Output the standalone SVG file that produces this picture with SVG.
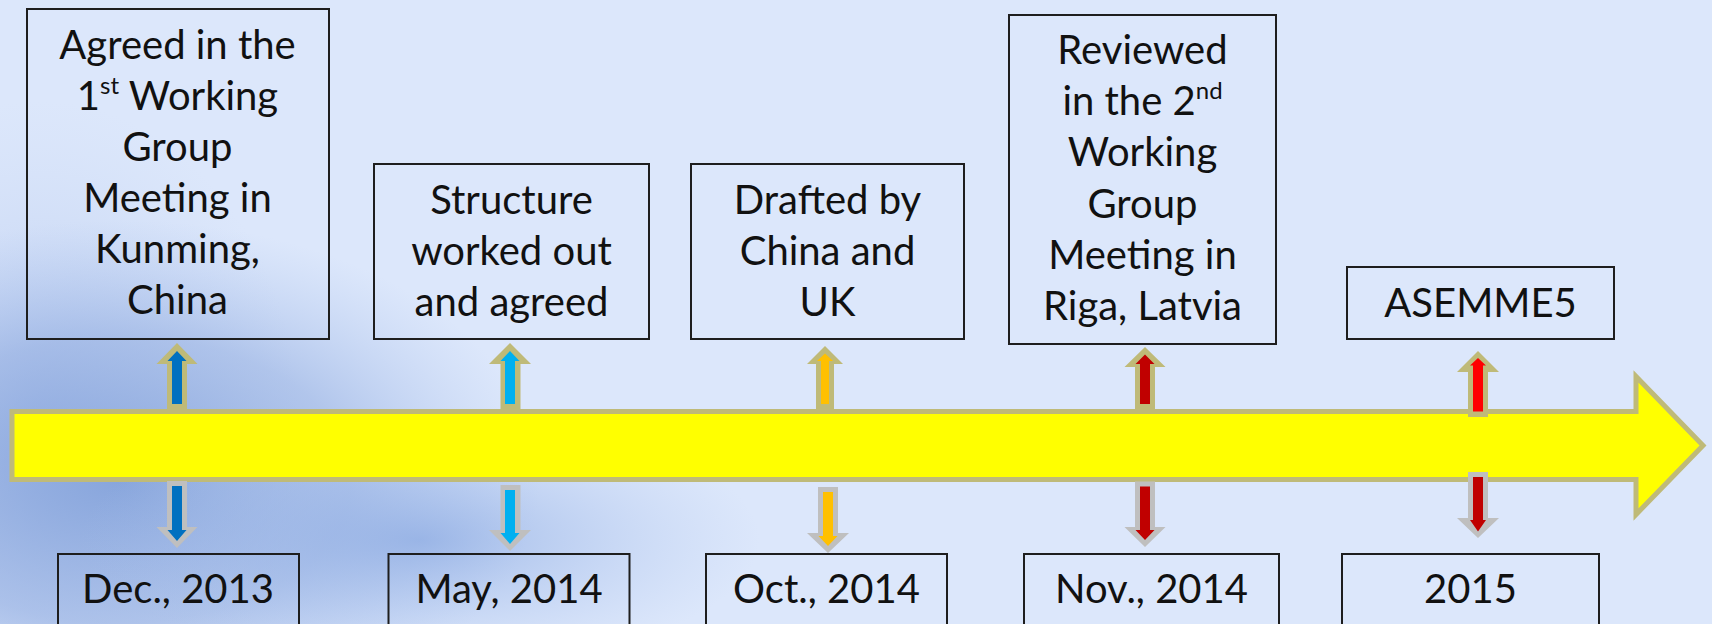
<svg xmlns="http://www.w3.org/2000/svg" width="1712" height="624" viewBox="0 0 1712 624">
<defs>
<radialGradient id="bg1" cx="0.5" cy="0.5" r="0.5"><stop offset="0" stop-color="#7d9dd8" stop-opacity="0.85"/><stop offset="0.55" stop-color="#8eaadf" stop-opacity="0.55"/><stop offset="1" stop-color="#a8c0ec" stop-opacity="0"/></radialGradient>
<radialGradient id="bg2" cx="0.5" cy="0.5" r="0.5"><stop offset="0" stop-color="#86a6e0" stop-opacity="0.7"/><stop offset="1" stop-color="#a8c0ec" stop-opacity="0"/></radialGradient>
<radialGradient id="bg3" cx="0.5" cy="0.5" r="0.5"><stop offset="0" stop-color="#a2b9e8" stop-opacity="0.7"/><stop offset="1" stop-color="#c4d4f2" stop-opacity="0"/></radialGradient>
<style>
.box{fill:none;stroke:#1e1e1e;stroke-width:2}
.t{font-family:Lato,"Open Sans","Liberation Sans",sans-serif;font-size:40px;fill:#111;text-anchor:middle}
.sup{font-size:24px}
.uo{fill:#bfba78}
.do{fill:#bfbfbf}
.bar{fill:#ffff00;stroke:#bfba78;stroke-width:5;stroke-linejoin:miter}
</style>
</defs>
<rect width="1712" height="624" fill="#dce7fb"/>
<ellipse cx="40" cy="430" rx="260" ry="330" fill="url(#bg3)"/>
<ellipse cx="120" cy="480" rx="420" ry="260" fill="url(#bg1)"/>
<ellipse cx="420" cy="540" rx="340" ry="130" fill="url(#bg2)"/>

<g id="timeline">
<path class="bar" d="M12,411.5 H1636 V376.5 L1703,445.5 L1636,514.5 V479.5 H12 Z"/>
</g>

<g id="connectors">
<polygon class="uo" points="177,343 197.5,364 187,364 187,410 167,410 167,364 156.5,364"/>
<polygon fill="#0070c0" points="177,351 186.5,361 182,361 182,404 172,404 172,361 167.5,361"/>
<polygon class="do" points="167,481 187,481 187,527 197.5,527 177,548 156.5,527 167,527"/>
<polygon fill="#0070c0" points="172,486 182,486 182,530 186.5,530 177,541 167.5,530 172,530"/>
<polygon class="uo" points="510,343 531,364 520.5,364 520.5,410 500.5,410 500.5,364 489,364"/>
<polygon fill="#00b0f0" points="510,351 519.5,361 515,361 515,404 505,404 505,361 500.5,361"/>
<polygon class="do" points="500.5,485 520.5,485 520.5,530 531,530 510,551 489,530 500.5,530"/>
<polygon fill="#00b0f0" points="505,490 515,490 515,533 519.5,533 510,544 500.5,533 505,533"/>
<polygon class="uo" points="825,346 843,364 834,364 834,410 816,410 816,364 807,364"/>
<polygon fill="#ffc000" points="825,353.5 833,361 829,361 829,404 821,404 821,361 817,361"/>
<polygon class="do" points="818,487 838,487 838,533 849,533 828,553 807,533 818,533"/>
<polygon fill="#ffc000" points="823,492 833,492 833,536 837.5,536 828,546 818.5,536 823,536"/>
<polygon class="uo" points="1145,347 1165.5,367 1155,367 1155,410 1135,410 1135,367 1124.5,367"/>
<polygon fill="#c00000" points="1145,354.5 1154.5,364 1150,364 1150,404 1140,404 1140,364 1135.5,364"/>
<polygon class="do" points="1135,481.5 1155,481.5 1155,527 1165.5,527 1145,547 1124.5,527 1135,527"/>
<polygon fill="#c00000" points="1140,486.5 1150,486.5 1150,530 1154.5,530 1145,540 1135.5,530 1140,530"/>
<polygon class="uo" points="1478,351 1499,372 1488,372 1488,417 1468,417 1468,372 1457,372"/>
<polygon fill="#ff0000" points="1478,358 1486,365.5 1483,365.5 1483,411.5 1473,411.5 1473,365.5 1470,365.5"/>
<polygon class="do" points="1468,472 1488,472 1488,518 1499,518 1478,538 1457,518 1468,518"/>
<polygon fill="#c00000" points="1473,477 1483,477 1483,520 1486,520 1478,531.5 1470,520 1473,520"/>
</g>

<g id="n1">
<rect class="box" x="27" y="9" width="302" height="330"/>
<text class="t" x="177.5" y="59">Agreed in the</text>
<text class="t" x="177.5" y="110">1<tspan class="sup" dy="-16">st</tspan><tspan dy="16"> Working</tspan></text>
<text class="t" x="177.5" y="161">Group</text>
<text class="t" x="177.5" y="212">Meeting in</text>
<text class="t" x="177.5" y="263">Kunming,</text>
<text class="t" x="177.5" y="314">China</text>
</g>
<g id="n2">
<rect class="box" x="374" y="164" width="275" height="175"/>
<text class="t" x="511.5" y="214">Structure</text>
<text class="t" x="511.5" y="265">worked out</text>
<text class="t" x="511.5" y="316">and agreed</text>
</g>
<g id="n3">
<rect class="box" x="691" y="164" width="273" height="175"/>
<text class="t" x="827.5" y="214">Drafted by</text>
<text class="t" x="827.5" y="265">China and</text>
<text class="t" x="827.5" y="316">UK</text>
</g>
<g id="n4">
<rect class="box" x="1009" y="15" width="267" height="329"/>
<text class="t" x="1142.5" y="64">Reviewed</text>
<text class="t" x="1142.5" y="115">in the 2<tspan class="sup" dy="-16">nd</tspan></text>
<text class="t" x="1142.5" y="166">Working</text>
<text class="t" x="1142.5" y="217.5">Group</text>
<text class="t" x="1142.5" y="268.5">Meeting in</text>
<text class="t" x="1142.5" y="319.5">Riga, Latvia</text>
</g>
<g id="n5">
<rect class="box" x="1347" y="267" width="267" height="72"/>
<text class="t" x="1480.5" y="317">ASEMME5</text>
</g>
<g id="d1">
<rect class="box" x="58" y="554" width="241" height="100"/>
<text class="t" x="178" y="603">Dec., 2013</text>
</g>
<g id="d2">
<rect class="box" x="388.5" y="554" width="241" height="100"/>
<text class="t" x="509" y="603">May, 2014</text>
</g>
<g id="d3">
<rect class="box" x="706" y="554" width="241" height="100"/>
<text class="t" x="826.5" y="603">Oct., 2014</text>
</g>
<g id="d4">
<rect class="box" x="1024" y="554" width="255" height="100"/>
<text class="t" x="1151.5" y="603">Nov., 2014</text>
</g>
<g id="d5">
<rect class="box" x="1342" y="554" width="257" height="100"/>
<text class="t" x="1470.5" y="603">2015</text>
</g>
</svg>
